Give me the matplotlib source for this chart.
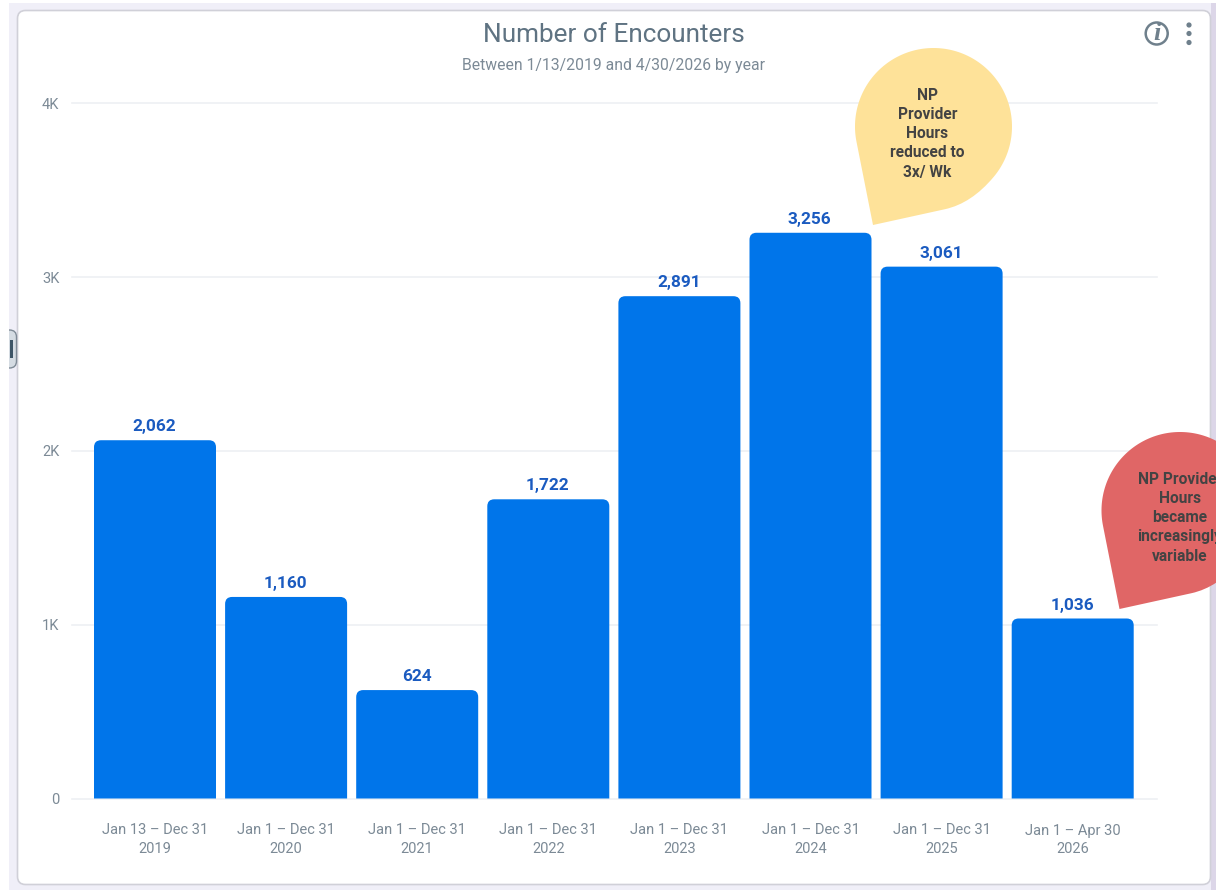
import numpy as np
import matplotlib
matplotlib.use("Agg")
import matplotlib.pyplot as plt
from matplotlib.path import Path
from matplotlib.patches import PathPatch, FancyBboxPatch, Circle

plt.rcParams['font.family'] = ['Roboto', 'DejaVu Sans']

# data
ranges = ["Jan 13 – Dec 31", "Jan 1 – Dec 31", "Jan 1 – Dec 31", "Jan 1 – Dec 31",
          "Jan 1 – Dec 31", "Jan 1 – Dec 31", "Jan 1 – Dec 31", "Jan 1 – Apr 30"]
years = [2019, 2020, 2021, 2022, 2023, 2024, 2025, 2026]
encounters = [2062, 1160, 624, 1722, 2891, 3256, 3061, 1036]
y_ticks = [0, 1000, 2000, 3000, 4000]
y_labels = ["0", "1K", "2K", "3K", "4K"]
note_yellow = ["NP", "Provider", "Hours", "reduced to", "3x/ Wk"]
note_red = ["NP Provider", "Hours", "became", "increasingly", "variable"]

W, H = 1216, 890
BAR = "#0075EA"
GREY = "#7c8a96"


def rounded_bar(ax, x, width, height, rx, ry):
    # bar with the two top corners rounded, rx/ry in data units
    l, r = x - width / 2, x + width / 2
    verts = [(l, 0), (l, height - ry), (l, height), (l + rx, height),
             (r - rx, height), (r, height), (r, height - ry), (r, 0), (l, 0)]
    codes = [Path.MOVETO, Path.LINETO, Path.CURVE3, Path.CURVE3,
             Path.LINETO, Path.CURVE3, Path.CURVE3, Path.LINETO, Path.CLOSEPOLY]
    ax.add_patch(PathPatch(Path(verts, codes), fc=BAR, ec="none", zorder=3))


def teardrop(ax, cx, cy, color):
    # blob with one sharp corner at lower left, pixel coords with y down
    r = 78.5
    angles = np.radians(np.linspace(40, -191.3, 140))
    verts = [(cx + r * np.cos(a), cy + r * np.sin(a)) for a in angles]
    codes = [Path.MOVETO] + [Path.LINETO] * (len(verts) - 1)
    # tip, then the straight lower edge which bulges back into the arc
    verts += [(cx - 60.5, cy + 98.5), (cx + 11.5, cy + 82.7), (cx + 38, cy + 76.9), verts[0]]
    codes += [Path.LINETO, Path.LINETO, Path.CURVE3, Path.CURVE3]
    ax.add_patch(PathPatch(Path(verts, codes), fc=color, ec="none", zorder=5))


fig = plt.figure(figsize=(W / 100, H / 100), dpi=100)

# page + card, in pixel coordinates
bg = fig.add_axes([0, 0, 1, 1], zorder=0)
bg.set_xlim(0, W)
bg.set_ylim(H, 0)
bg.axis("off")
bg.add_patch(plt.Rectangle((0, 0), W, H, fc="white", ec="none"))
bg.add_patch(plt.Rectangle((9, 3), W - 9, H - 3, fc="#f0eff8", ec="none"))
bg.add_patch(plt.Rectangle((1211, 3), 5, H, fc="#dcd6e8", ec="none"))
bg.add_patch(FancyBboxPatch((24, 17), 1180, 861, boxstyle="round,pad=6.5,rounding_size=8",
                            fc="white", ec="#d0d0d8", lw=1.2))
# little handle on the left edge, cut by the white margin
bg.add_patch(FancyBboxPatch((-8, 331), 23.5, 36, boxstyle="round,pad=1,rounding_size=7",
                            fc="#d5dce3", ec="#7f8b96", lw=1))
bg.add_patch(plt.Rectangle((0, 325), 9, 50, fc="white", ec="none", zorder=4))
bg.add_patch(plt.Rectangle((9.5, 340), 3, 18, fc="#3d5566", ec="none", zorder=5))

# chart area
x0, x1, y0, y1 = 72, 1157, 103.5, 798.5
ax = fig.add_axes([x0 / W, 1 - y1 / H, (x1 - x0) / W, (y1 - y0) / H], zorder=1)
ax.patch.set_visible(False)
step = 131.1
ax.set_xlim((x0 - 155) / step, (x1 - 155) / step)
ax.set_ylim(0, 4000)
for s in ax.spines.values():
    s.set_visible(False)
ax.grid(axis="y", color="#eef0f3", lw=1.2, zorder=0)
for g in ax.get_ygridlines():
    g.set_clip_on(False)
ax.set_axisbelow(True)
ax.set_yticks(y_ticks)
ax.set_yticklabels(y_labels, fontsize=10.5, color=GREY)
for g in ax.get_ygridlines():
    g.set_clip_on(False)
ax.set_xticks(range(len(years)))
ax.set_xticklabels([f"{a}\n{b}" for a, b in zip(ranges, years)], fontsize=10.5, color=GREY, linespacing=1.38)
ax.tick_params(axis="y", length=0, pad=9)
ax.tick_params(axis="x", length=0, pad=18)

for i, v in enumerate(encounters):
    rounded_bar(ax, i, 122 / step, v, 7 / step, 7 * 4000 / (y1 - y0))
    ax.annotate(f"{v:,}", (i, v), xytext=(-0.5, 4.3), textcoords="offset points", ha="center", va="bottom",
                fontsize=12.4, fontweight="bold", color="#1b5bc0", zorder=4)

# overlay: title, icons, callouts
top = fig.add_axes([0, 0, 1, 1], zorder=2)
top.patch.set_visible(False)
top.set_xlim(0, W)
top.set_ylim(H, 0)
top.axis("off")
top.text(614, 35.5, "Number of Encounters", ha="center", va="center", fontsize=18.8, color="#5f7382")
top.text(614, 65.5, "Between 1/13/2019 and 4/30/2026 by year", ha="center", va="center", fontsize=11.3, color=GREY)

top.add_patch(Circle((1156.7, 33.5), 11, fc="none", ec="#6f808c", lw=1.8))
top.text(1156.7, 33.5, "i", ha="center", va="center", fontsize=19, color="#6f808c",
         family="Liberation Serif", style="italic", fontweight="bold")
for yy in (25, 33.5, 42.5):
    top.add_patch(Circle((1189, yy), 2.6, fc="#6f808c", ec="none"))

teardrop(top, 933.5, 126.5, "#FEE299")
teardrop(top, 1180, 510.5, "#E06666")
for line, yy in zip(note_yellow, [95, 114.5, 133.5, 152.5, 172]):
    top.text(927.5, yy, line, ha="center", va="center", fontsize=11.2, fontweight="bold", color="#434343", zorder=6)
for line, yy in zip(note_red, [479, 498.5, 517.5, 537, 556.5]):
    top.text(1180, yy, line, ha="center", va="center", fontsize=11.2, fontweight="bold", color="#434343", zorder=6)

fig.savefig("out.png", dpi=100)
